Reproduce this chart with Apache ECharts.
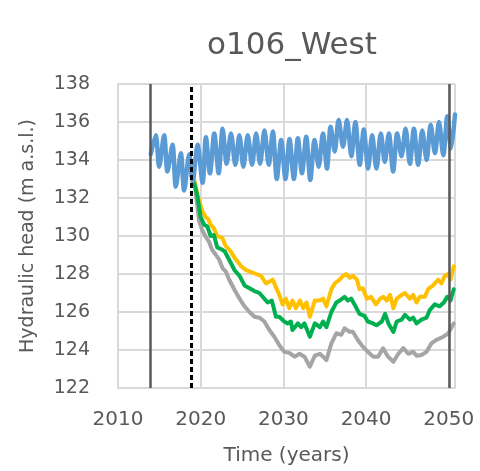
<!DOCTYPE html>
<html>
<head>
<meta charset="utf-8">
<script src="https://cdn.jsdelivr.net/npm/echarts@6/dist/echarts.min.js"></script>
<style>
  html, body { margin: 0; padding: 0; background: #fff; }
  #chart { width: 480px; height: 471px; }
</style>
</head>
<body>
<div id="chart"></div>
<script>
// [year, hydraulic head]
const observed = [
  [2013.96, 134.3], [2014.57, 135.3], [2014.97, 133.65], [2015.58, 135.3], [2015.98, 133.4],
  [2016.59, 134.8], [2016.99, 132.6], [2017.60, 134.35], [2018.00, 132.4], [2018.61, 134.3],
  [2019.02, 132.85], [2019.62, 134.8], [2020.23, 132.8], [2020.63, 135.2], [2021.12, 133.3],
  [2021.64, 135.4], [2022.17, 133.3], [2022.65, 135.65], [2023.14, 133.8], [2023.66, 135.4],
  [2024.19, 133.75], [2024.68, 135.3], [2025.16, 133.65], [2025.69, 135.3], [2026.21, 133.75],
  [2026.70, 135.4], [2027.18, 133.8], [2027.71, 135.55], [2028.23, 133.75], [2028.72, 135.5],
  [2029.20, 133.0], [2029.73, 135.05], [2030.25, 133.0], [2030.74, 135.1], [2031.27, 133.0],
  [2031.75, 135.15], [2032.24, 133.3], [2032.76, 135.23], [2033.25, 132.95], [2033.77, 135.05],
  [2034.26, 133.65], [2034.78, 135.4], [2035.27, 133.55], [2035.71, 135.75], [2036.20, 134.45],
  [2036.68, 136.1], [2037.21, 134.7], [2037.69, 136.1], [2038.22, 134.2], [2038.70, 136.0],
  [2039.23, 133.75], [2039.72, 135.6], [2040.24, 133.55], [2040.73, 135.3], [2041.25, 133.55],
  [2041.78, 135.4], [2042.26, 133.9], [2042.75, 135.4], [2043.27, 133.4], [2043.76, 135.4],
  [2044.28, 134.2], [2044.77, 135.65], [2045.29, 133.8], [2045.78, 135.65], [2046.30, 133.75],
  [2046.79, 135.55], [2047.32, 134.0], [2047.80, 135.85], [2048.33, 134.35], [2048.81, 136.0],
  [2049.34, 134.25], [2049.82, 136.3], [2050.27, 134.6], [2050.75, 136.4]
]

const scenarioYellow = [
  [2019.2, 133.0], [2019.6, 132.2], [2020.2, 131.3], [2020.6, 131.0], [2020.9, 130.9],
  [2021.2, 130.6], [2021.6, 130.4], [2022.0, 130.0], [2022.6, 129.9], [2023.0, 129.5],
  [2023.6, 129.2], [2024.2, 128.8], [2024.9, 128.4], [2025.5, 128.2], [2026.1, 128.1],
  [2026.7, 128.0], [2027.3, 127.9], [2027.9, 127.5], [2028.7, 127.7], [2029.3, 127.1],
  [2029.5, 126.9], [2029.9, 126.4], [2030.3, 126.7], [2030.7, 126.2], [2031.1, 126.6],
  [2031.5, 126.2], [2032.0, 126.6], [2032.4, 126.2], [2032.8, 126.5], [2033.2, 125.75],
  [2033.8, 126.6], [2034.4, 126.6], [2034.8, 126.7], [2035.2, 126.3], [2035.8, 127.2],
  [2036.2, 127.5], [2036.8, 127.7], [2037.2, 127.9], [2037.6, 128.0], [2038.0, 127.8],
  [2038.4, 127.9], [2038.9, 127.7], [2039.2, 127.2], [2039.6, 127.25], [2040.1, 126.7],
  [2040.6, 126.8], [2041.2, 126.4], [2041.7, 126.7], [2042.1, 126.8], [2042.5, 126.6],
  [2042.9, 126.9], [2043.3, 126.2], [2043.7, 126.7], [2044.3, 126.9], [2044.7, 127.0],
  [2045.3, 126.7], [2045.7, 126.9], [2046.1, 126.5], [2046.5, 126.8], [2047.1, 126.8],
  [2047.5, 127.2], [2048.1, 127.4], [2048.7, 127.7], [2049.1, 127.5], [2049.5, 127.9],
  [2049.9, 128.0], [2050.2, 127.7], [2050.6, 128.4]
]

const scenarioGreen = [
  [2019.2, 132.8], [2019.6, 132.1], [2020.0, 131.0], [2020.4, 130.6], [2020.8, 130.5],
  [2021.2, 130.0], [2021.6, 130.05], [2022.0, 129.4], [2022.5, 129.3], [2022.9, 129.2],
  [2023.5, 128.7], [2024.1, 128.2], [2024.7, 127.9], [2025.3, 127.4], [2025.9, 127.25],
  [2026.5, 127.1], [2027.1, 127.0], [2027.7, 126.7], [2028.1, 126.5], [2028.6, 126.6],
  [2029.1, 125.75], [2029.5, 125.75], [2030.1, 125.5], [2030.5, 125.4], [2030.9, 125.5],
  [2031.1, 125.05], [2031.75, 125.4], [2032.15, 125.2], [2032.55, 125.4], [2033.2, 124.7],
  [2033.8, 125.4], [2034.4, 125.2], [2034.8, 125.5], [2035.2, 125.2], [2035.8, 126.0],
  [2036.4, 126.5], [2036.8, 126.6], [2037.4, 126.8], [2037.8, 126.6], [2038.2, 126.7],
  [2038.6, 126.4], [2039.2, 125.9], [2039.8, 125.8], [2040.2, 125.5], [2040.85, 125.4],
  [2041.25, 125.3], [2041.9, 125.5], [2042.3, 125.9], [2042.7, 125.4], [2043.3, 124.95],
  [2043.7, 125.5], [2044.3, 125.6], [2044.7, 125.85], [2045.3, 125.6], [2045.7, 125.7],
  [2046.1, 125.4], [2046.7, 125.6], [2047.3, 125.7], [2047.7, 126.1], [2048.3, 126.4],
  [2048.9, 126.3], [2049.4, 126.5], [2049.8, 126.8], [2050.2, 126.6], [2050.6, 127.2]
]

const scenarioGray = [
  [2019.3, 132.7], [2019.8, 130.8], [2020.2, 130.3], [2020.6, 129.96], [2021.0, 129.7],
  [2021.4, 129.26], [2021.85, 129.0], [2022.25, 128.74], [2022.65, 128.3], [2023.05, 128.12],
  [2023.45, 127.7], [2024.1, 127.16], [2024.7, 126.7], [2025.3, 126.3], [2025.9, 126.0],
  [2026.5, 125.75], [2027.1, 125.7], [2027.7, 125.5], [2028.3, 125.05], [2028.9, 124.7],
  [2029.5, 124.26], [2030.1, 123.9], [2030.7, 123.85], [2031.35, 123.65], [2031.95, 123.8],
  [2032.55, 123.65], [2033.2, 123.12], [2033.8, 123.7], [2034.4, 123.8], [2034.8, 123.65],
  [2035.2, 123.47], [2035.8, 124.35], [2036.4, 124.88], [2037.0, 124.8], [2037.4, 125.14],
  [2038.0, 124.96], [2038.4, 124.96], [2039.0, 124.53], [2039.6, 124.18], [2040.2, 123.91],
  [2040.85, 123.65], [2041.45, 123.65], [2042.05, 124.09], [2042.65, 123.65], [2043.3, 123.38],
  [2043.9, 123.8], [2044.5, 124.1], [2045.1, 123.8], [2045.7, 123.9], [2046.1, 123.7],
  [2046.7, 123.74], [2047.3, 123.9], [2047.9, 124.35], [2048.5, 124.53], [2049.35, 124.7],
  [2049.95, 124.88], [2050.6, 125.4]
]

// vertical reference lines
const periodLines = [2013.85, 2050.1]
const todayLine = 2018.85

const textColor = '#595959'
const gridColor = '#D9D9D9'
const font = 'DejaVu Sans'

function lineSeries(name, data, color, width, smooth) {
  return {
    name: name,
    type: 'line',
    data: data,
    smooth: smooth,
    showSymbol: false,
    symbol: 'none',
    lineStyle: { color: color, width: width, cap: 'round', join: 'round' },
    animation: false
  }
}

const chart = echarts.init(document.getElementById('chart'))
chart.setOption({
  backgroundColor: '#fff',
  animation: false,
  title: {
    text: 'o106_West',
    left: 202,
    top: 25,
    textStyle: { fontFamily: font, fontSize: 31, fontWeight: 'normal', color: textColor }
  },
  grid: { left: 118, top: 84, right: 25, bottom: 83 },
  xAxis: {
    type: 'value',
    min: 2010,
    max: 2050.75,
    interval: 10,
    name: 'Time (years)',
    nameLocation: 'middle',
    nameGap: 58,
    nameTextStyle: { fontFamily: font, fontSize: 20, color: textColor },
    axisLine: { show: true, lineStyle: { color: gridColor, width: 2 } },
    axisTick: { show: false },
    axisLabel: {
      showMaxLabel: false,
      margin: 22,
      fontFamily: font,
      fontSize: 20,
      color: textColor,
      formatter: v => String(Math.round(v))
    },
    splitLine: { show: true, lineStyle: { color: gridColor, width: 2 } }
  },
  yAxis: {
    type: 'value',
    min: 122,
    max: 138,
    interval: 2,
    name: 'Hydraulic head (m a.s.l.)',
    nameLocation: 'middle',
    nameGap: 80,
    nameTextStyle: { fontFamily: font, fontSize: 19, color: textColor },
    axisLine: { show: true, lineStyle: { color: gridColor, width: 2 } },
    axisTick: { show: false },
    axisLabel: { margin: 28, fontFamily: font, fontSize: 19, color: textColor },
    splitLine: { show: true, lineStyle: { color: gridColor, width: 2 } }
  },
  series: [
    lineSeries('gray', scenarioGray, '#A5A5A5', 4, false),
    lineSeries('yellow', scenarioYellow, '#FFC000', 4, false),
    lineSeries('green', scenarioGreen, '#00B050', 4, false),
    lineSeries('observed', observed, '#5B9BD5', 4.5, 0.3),
    {
      type: 'line',
      data: [],
      z: 10,
      markLine: {
        silent: true,
        symbol: 'none',
        animation: false,
        label: { show: false },
        data: [
          ...periodLines.map(x => ({ xAxis: x, lineStyle: { color: '#595959', width: 2.5, type: 'solid' } })),
          { xAxis: todayLine, lineStyle: { color: '#000', width: 3, type: [5, 3] } }
        ]
      }
    }
  ]
})
</script>
</body>
</html>
